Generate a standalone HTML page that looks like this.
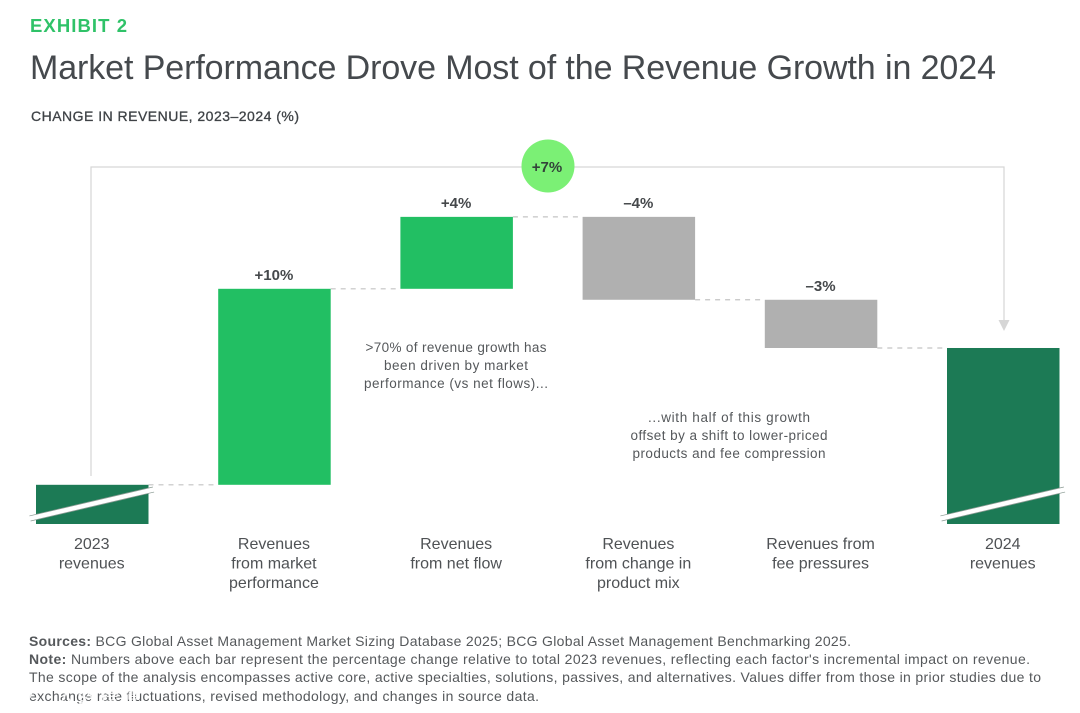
<!DOCTYPE html>
<html lang="en">
<head>
<meta charset="utf-8">
<title>Market Performance Drove Most of the Revenue Growth in 2024</title>
<style>
html,body{margin:0;padding:0;background:#fff;width:1080px;height:713px;overflow:hidden}
svg{display:block;font-family:"Liberation Sans","Noto Sans CJK SC",sans-serif}
</style>
</head>
<body>
<svg id="chart" width="1080" height="713" viewBox="0 0 1080 713" xmlns="http://www.w3.org/2000/svg">
  <text x="30" y="32" font-size="18.500" font-weight="700" fill="#2fc268" textLength="97" lengthAdjust="spacing">EXHIBIT 2</text>
  <text x="30" y="79" font-size="34" fill="#45494d" textLength="966" lengthAdjust="spacing">Market Performance Drove Most of the Revenue Growth in 2024</text>
  <text x="31" y="121" font-size="14" font-weight="400" stroke="#3f4347" stroke-width="0.3" fill="#3f4347" textLength="268" lengthAdjust="spacing">CHANGE IN REVENUE, 2023–2024 (%)</text>

  <g id="total-bracket" fill="none" stroke="#d6d6d6" stroke-width="1.2">
    <path d="M91 476V167H1004V322"></path>
    <path d="M998.500 320H1009.500L1004 331Z" fill="#d6d6d6" stroke="none"></path>
  </g>
  <g id="connectors"></g>
  <g id="bars"></g>
  <g id="breaks"></g>
  <g id="value-labels"></g>
  <g id="category-labels"></g>

  <circle cx="548" cy="166" r="26.500" fill="#7bf075"></circle>
  <text x="547" y="172" font-size="15" font-weight="700" fill="#33433a" text-anchor="middle">+7%</text>

  <g font-size="13.500" fill="#55585b" text-anchor="middle">
    <text x="456" y="352" textLength="181" lengthAdjust="spacing">&gt;70% of revenue growth has</text>
    <text x="456" y="370" textLength="144" lengthAdjust="spacing">been driven by market</text>
    <text x="456" y="388" textLength="184" lengthAdjust="spacing">performance (vs net flows)...</text>
  </g>
  <g font-size="13.500" fill="#55585b" text-anchor="middle">
    <text x="729" y="422" textLength="162" lengthAdjust="spacing">...with half of this growth</text>
    <text x="729" y="440" textLength="197" lengthAdjust="spacing">offset by a shift to lower-priced</text>
    <text x="729" y="458" textLength="193" lengthAdjust="spacing">products and fee compression</text>
  </g>

  <g font-size="14" fill="#55585b">
    <text x="29" y="646" textLength="822" lengthAdjust="spacing"><tspan font-weight="700">Sources:</tspan> BCG Global Asset Management Market Sizing Database 2025; BCG Global Asset Management Benchmarking 2025.</text>
    <text x="29" y="664" textLength="1001" lengthAdjust="spacing"><tspan font-weight="700">Note:</tspan> Numbers above each bar represent the percentage change relative to total 2023 revenues, reflecting each factor's incremental impact on revenue.</text>
    <text x="29" y="682" textLength="1012" lengthAdjust="spacing">The scope of the analysis encompasses active core, active specialties, solutions, passives, and alternatives. Values differ from those in prior studies due to</text>
    <text x="29" y="701" textLength="510" lengthAdjust="spacing">exchange rate fluctuations, revised methodology, and changes in source data.</text>
  </g>

  <g fill="#ffffff" opacity="0.9">
    <circle cx="21" cy="692" r="10" fill="none" stroke="#ffffff" stroke-width="2.500"></circle>
    <text x="56" y="703" font-size="20" style="font-family:'Noto Sans CJK SC',sans-serif" textLength="84" lengthAdjust="spacing">大数跨境</text>
  </g>
</svg>
<script>
var categories = [
  ["2023", "revenues"],
  ["Revenues", "from market", "performance"],
  ["Revenues", "from net flow"],
  ["Revenues", "from change in", "product mix"],
  ["Revenues from", "fee pressures"],
  ["2024", "revenues"]
];
var startValue = 2.0;
var deltaValues = [10, 3.67, -4.23, -2.46];
var valueLabels = ["", "+10%", "+4%", "–4%", "–3%", ""];

var NS = "http://www.w3.org/2000/svg";
var FIRST_X = 36;
var STEP_X = 182.2;
var BAR_WIDTH = 112.5;
var BASE_Y = 524;
var UNIT_PX = 19.6;
function xScale(i) { return FIRST_X + i * STEP_X; }
function yScale(v) { return BASE_Y - v * UNIT_PX; }
function make(tag, parent, attrs) {
  var el = document.createElementNS(NS, tag);
  for (var k in attrs) { el.setAttribute(k, attrs[k]); }
  parent.appendChild(el);
  return el;
}

var barsG = document.getElementById("bars");
var connG = document.getElementById("connectors");
var valG = document.getElementById("value-labels");
var catG = document.getElementById("category-labels");
var brkG = document.getElementById("breaks");

var running = startValue;
var segments = [{ from: 0, to: startValue, color: "#1c7a55" }];
deltaValues.forEach(function (d) {
  segments.push({ from: running, to: running + d, color: d >= 0 ? "#22bf63" : "#b0b0b0" });
  running += d;
});
segments.push({ from: 0, to: running, color: "#1c7a55" });

segments.forEach(function (s, i) {
  var top = yScale(Math.max(s.from, s.to));
  var bottom = yScale(Math.min(s.from, s.to));
  var bar = make("rect", barsG, { x: xScale(i), y: top, width: BAR_WIDTH, height: bottom - top, fill: s.color });
  
  

  if (i < segments.length - 1) {
    var connY = yScale(s.to);
    var conn = make("line", connG, { x1: xScale(i) + BAR_WIDTH, x2: xScale(i + 1), y1: connY, y2: connY, stroke: "#c4c4c4", "stroke-width": 1.2, "stroke-dasharray": "5 5" });
    
    
  }

  if (valueLabels[i]) {
    var label = make("text", valG, { x: xScale(i) + BAR_WIDTH / 2 - 0.5, y: top - 9, "font-size": 15, "font-weight": 700, fill: "#45484b", "text-anchor": "middle" });
    label.textContent = valueLabels[i];
    
    
  }

  categories[i].forEach(function (line, n) {
    var cat = make("text", catG, { x: xScale(i) + BAR_WIDTH / 2 - 0.5, y: 549 + n * 19.5, "font-size": 16, fill: "#4f5255", "text-anchor": "middle" });
    cat.textContent = line;
    
    
  });
});

[0, segments.length - 1].forEach(function (i) {
  var x1 = xScale(i) - 6;
  var x2 = xScale(i) + BAR_WIDTH + 5;
  var band = make("line", brkG, { x1: x1, y1: 518.5, x2: x2, y2: 489.5, stroke: "#8b9a93", "stroke-width": 6 });
  
  
  var gap = make("line", brkG, { x1: x1 - 1, y1: 518.7, x2: x2 + 1, y2: 489.3, stroke: "#ffffff", "stroke-width": 4.4 });
  
  
});
</script>
</body>
</html>
